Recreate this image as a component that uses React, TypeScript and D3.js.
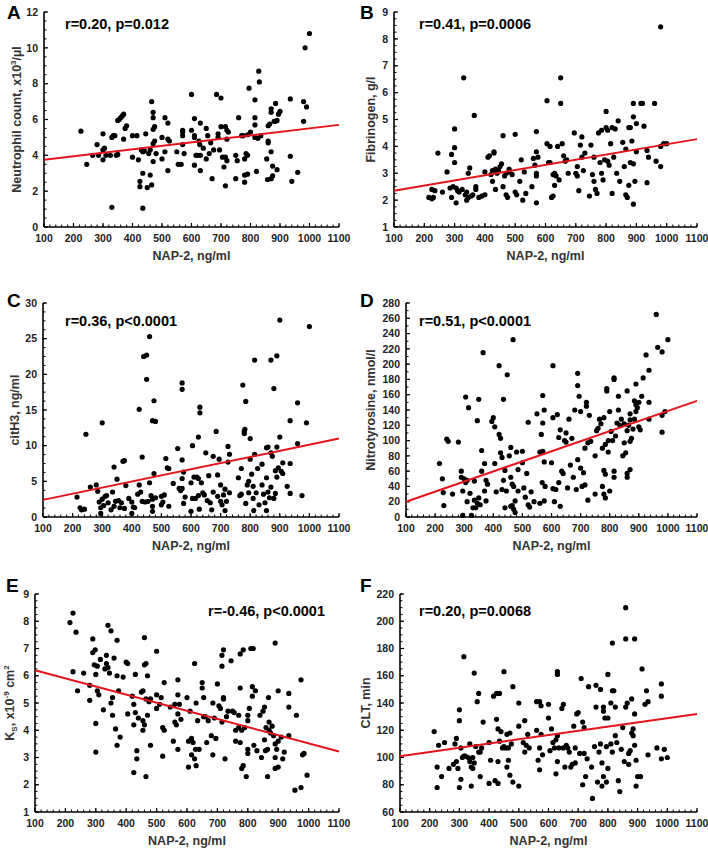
import React from "react";
import * as d3 from "d3";

type P = [number, number];

const xTicks = [100, 200, 300, 400, 500, 600, 700, 800, 900, 1000, 1100];

const neutrophil: P[] = [
  [225, 5.35], [245, 3.5], [265, 4.0], [280, 4.6], [285, 4.0], [300, 5.2], [300, 4.3], [305, 4.4], [300, 3.75], [310, 4.0],
  [325, 4.0], [330, 5.0], [335, 5.1], [340, 5.1], [345, 4.0], [350, 4.05], [330, 1.1], [350, 5.95], [355, 6.0], [360, 6.1],
  [365, 6.2], [370, 6.3], [370, 4.9], [375, 5.5], [380, 5.65], [400, 3.9], [400, 5.1], [415, 5.1], [420, 3.75], [425, 2.55],
  [425, 2.25], [430, 4.3], [435, 4.2], [435, 3.0], [440, 4.25], [435, 1.05], [445, 5.2], [450, 2.2], [455, 4.1], [460, 2.9],
  [465, 2.35], [460, 4.3], [465, 7.0], [470, 6.4], [470, 6.1], [470, 5.45], [475, 5.6], [470, 4.65], [475, 4.8], [470, 3.65],
  [480, 4.1], [500, 5.0], [500, 3.8], [510, 4.2], [510, 6.1], [520, 5.8], [520, 4.9], [525, 4.8], [520, 3.15], [550, 4.2],
  [555, 3.5], [565, 3.5], [570, 5.4], [570, 5.3], [570, 5.1], [570, 4.6], [575, 4.1], [600, 7.4], [600, 5.4], [610, 6.05],
  [610, 5.1], [610, 5.0], [610, 3.45], [615, 4.0], [620, 4.0], [625, 4.8], [628, 4.6], [630, 5.8], [630, 4.0], [630, 3.15],
  [640, 4.4], [650, 5.5], [650, 3.8], [655, 5.1], [660, 4.1], [665, 4.7], [670, 2.7], [675, 4.3], [685, 7.4], [690, 5.2],
  [690, 5.0], [695, 4.3], [700, 7.2], [700, 5.6], [705, 3.9], [710, 3.35], [715, 5.6], [715, 2.3], [720, 5.4], [720, 4.9],
  [720, 3.7], [725, 5.3], [715, 3.9], [750, 4.0], [750, 2.7], [755, 3.7], [760, 6.1], [770, 5.1], [775, 5.1], [780, 3.8],
  [780, 2.5], [780, 2.9], [785, 4.1], [790, 5.15], [790, 4.0], [790, 2.95], [795, 7.75], [800, 5.3], [815, 7.1], [815, 6.1],
  [815, 5.7], [815, 5.0], [820, 3.1], [825, 4.95], [828, 8.7], [830, 8.1], [835, 5.1], [855, 3.8], [858, 2.65], [860, 5.65],
  [860, 4.8], [860, 4.7], [865, 5.75], [870, 6.6], [870, 6.4], [870, 4.2], [870, 2.7], [875, 3.4], [875, 2.85], [880, 5.9],
  [885, 6.9], [885, 5.9], [890, 5.95], [890, 3.2], [895, 6.3], [900, 6.45], [935, 7.15], [935, 3.95], [940, 2.55], [960, 3.05],
  [980, 7.0], [980, 5.9], [985, 10.0], [990, 6.7], [1000, 10.8],
];

const fibrinogen: P[] = [
  [215, 2.1], [225, 2.05], [230, 2.1], [225, 2.4], [235, 2.35], [245, 3.75], [260, 2.3], [275, 3.05], [285, 2.45], [290, 2.1],
  [290, 3.7], [295, 2.5], [300, 4.65], [300, 3.95], [300, 3.4], [305, 2.45], [305, 1.9], [310, 2.35], [315, 2.3], [325, 2.4],
  [330, 6.55], [335, 2.2], [340, 2.0], [340, 2.3], [345, 2.1], [345, 3.0], [350, 3.2], [355, 2.15], [360, 2.2], [365, 5.15],
  [370, 2.5], [370, 2.4], [380, 2.1], [390, 2.15], [400, 3.05], [400, 2.2], [410, 3.6], [415, 3.65], [420, 2.95], [425, 3.1],
  [425, 2.7], [430, 3.8], [430, 3.75], [435, 3.15], [435, 2.4], [440, 3.0], [445, 3.1], [450, 3.25], [455, 3.35], [460, 4.4],
  [460, 2.5], [465, 2.9], [470, 3.0], [470, 2.2], [475, 2.1], [480, 3.05], [480, 3.15], [490, 2.95], [500, 4.45], [500, 2.3],
  [505, 2.2], [515, 2.7], [520, 3.5], [525, 2.0], [530, 3.05], [535, 2.25], [555, 2.5], [560, 3.55], [565, 3.3], [570, 4.55],
  [570, 3.8], [570, 3.0], [570, 2.9], [570, 1.9], [575, 3.6], [605, 5.7], [605, 4.1], [610, 3.4], [615, 4.0], [615, 3.4],
  [620, 2.1], [625, 2.95], [625, 2.15], [630, 3.0], [630, 2.55], [635, 2.9], [640, 4.0], [645, 2.75], [650, 6.55], [650, 5.6],
  [655, 4.1], [660, 3.65], [665, 3.45], [670, 3.5], [675, 3.0], [695, 4.5], [700, 3.0], [705, 2.9], [705, 3.25], [710, 2.35],
  [715, 4.05], [720, 4.35], [720, 3.6], [725, 3.1], [730, 3.75], [745, 2.15], [750, 4.05], [755, 2.95], [760, 3.6], [760, 2.7],
  [765, 2.4], [770, 2.25], [775, 4.5], [780, 3.4], [785, 4.6], [785, 3.0], [790, 2.75], [795, 3.5], [800, 5.3], [800, 4.7],
  [805, 4.6], [805, 3.45], [810, 3.3], [815, 4.1], [820, 4.7], [820, 2.25], [825, 3.6], [830, 4.65], [835, 3.0], [840, 4.95],
  [845, 2.7], [855, 4.15], [860, 3.25], [865, 3.9], [865, 2.2], [870, 2.1], [875, 4.7], [875, 2.55], [880, 4.7], [880, 3.4],
  [885, 4.2], [890, 5.6], [890, 5.1], [890, 3.35], [890, 1.85], [895, 2.7], [900, 3.8], [900, 4.85], [915, 5.6], [920, 5.6],
  [925, 4.75], [935, 3.85], [935, 2.65], [940, 3.6], [960, 5.6], [965, 3.45], [980, 8.45], [980, 4.0], [980, 3.25], [990, 4.1],
  [1000, 4.1],
];

const citH3: P[] = [
  [215, 2.8], [225, 1.3], [230, 1.0], [240, 1.1], [245, 11.6], [260, 4.2], [280, 4.5], [285, 3.6], [290, 2.1], [295, 1.3],
  [295, 0.5], [300, 13.2], [300, 2.5], [305, 1.6], [310, 2.9], [315, 3.0], [320, 2.0], [330, 1.0], [335, 3.5], [340, 7.0],
  [340, 1.5], [345, 2.2], [350, 5.3], [355, 2.3], [360, 1.3], [365, 2.0], [370, 7.8], [375, 7.9], [375, 1.2], [380, 4.4],
  [390, 2.6], [400, 2.1], [400, 0.5], [405, 1.4], [410, 1.3], [420, 3.2], [425, 15.1], [425, 4.5], [430, 3.5], [435, 8.4],
  [435, 2.2], [440, 22.5], [445, 2.1], [450, 22.7], [450, 19.3], [455, 2.2], [460, 25.3], [460, 4.8], [465, 3.0], [470, 13.5],
  [470, 2.5], [470, 1.5], [470, 0.8], [475, 16.3], [475, 6.1], [480, 13.4], [480, 2.7], [500, 2.9], [500, 1.7], [505, 2.1],
  [510, 3.1], [515, 8.2], [520, 6.9], [525, 6.8], [525, 1.5], [540, 4.7], [555, 9.6], [560, 4.0], [565, 3.7], [570, 18.8],
  [570, 17.9], [570, 8.0], [570, 5.4], [570, 4.0], [575, 6.3], [575, 1.9], [580, 2.8], [600, 4.8], [600, 0.8], [605, 10.0],
  [605, 2.6], [610, 5.6], [615, 2.6], [620, 5.6], [625, 11.2], [625, 5.4], [625, 3.0], [628, 1.1], [630, 15.4], [630, 14.6],
  [635, 4.8], [640, 3.4], [645, 3.1], [650, 9.0], [655, 2.3], [660, 5.8], [665, 2.0], [670, 1.0], [675, 8.5], [675, 3.5],
  [685, 12.0], [690, 5.9], [690, 2.9], [695, 8.1], [700, 4.5], [700, 2.2], [705, 1.7], [710, 3.1], [715, 3.9], [715, 0.9],
  [720, 2.2], [725, 9.9], [725, 7.7], [730, 8.8], [730, 3.4], [760, 5.5], [765, 3.0], [770, 3.2], [770, 6.8], [775, 18.5],
  [780, 12.0], [780, 11.7], [782, 12.3], [785, 16.2], [785, 1.9], [790, 4.5], [795, 5.0], [795, 3.4], [800, 11.0], [800, 8.1],
  [805, 6.0], [810, 4.3], [810, 2.6], [812, 0.9], [815, 22.0], [815, 8.8], [820, 3.4], [825, 6.8], [830, 1.7], [840, 7.4],
  [840, 4.5], [845, 3.2], [850, 2.0], [855, 9.7], [855, 5.5], [855, 0.9], [860, 9.8], [860, 3.5], [865, 2.7], [870, 22.0],
  [870, 9.0], [870, 4.2], [875, 8.5], [880, 18.0], [880, 2.6], [885, 6.5], [885, 3.3], [890, 22.6], [890, 9.8], [890, 5.6],
  [895, 6.9], [900, 27.6], [900, 11.2], [905, 6.4], [910, 7.6], [910, 6.1], [925, 4.3], [935, 13.5], [935, 7.5], [935, 3.3],
  [960, 16.0], [960, 10.3], [975, 3.0], [990, 13.2], [1000, 26.7],
];

const nitrotyrosine: P[] = [
  [215, 70], [225, 50], [228, 32], [230, 15], [240, 102], [245, 99], [260, 30], [280, 98], [290, 60], [290, 52],
  [295, 34], [295, 2], [300, 50], [305, 157], [305, 45], [310, 20], [310, 48], [315, 143], [320, 31], [325, 2],
  [330, 12], [335, 22], [335, 47], [340, 12], [345, 126], [345, 18], [350, 154], [350, 25], [355, 16], [360, 87],
  [360, 60], [365, 215], [370, 34], [370, 70], [375, 48], [375, 21], [380, 43], [395, 125], [400, 130], [405, 118],
  [405, 70], [410, 33], [420, 198], [420, 108], [425, 103], [425, 84], [430, 78], [430, 36], [435, 154], [435, 48],
  [440, 12], [440, 61], [445, 34], [448, 186], [455, 80], [460, 91], [460, 52], [460, 14], [465, 43], [465, 15],
  [468, 232], [470, 40], [470, 10], [475, 21], [475, 6], [480, 85], [485, 62], [485, 34], [500, 86], [500, 71],
  [505, 38], [510, 26], [515, 57], [520, 124], [520, 16], [525, 13], [530, 33], [540, 20], [550, 135], [560, 85],
  [560, 18], [565, 108], [568, 45], [570, 159], [570, 123], [570, 86], [575, 140], [575, 72], [575, 21], [578, 40],
  [600, 71], [605, 198], [605, 130], [605, 37], [610, 20], [615, 36], [620, 134], [625, 104], [625, 45], [630, 114],
  [630, 14], [635, 60], [640, 57], [645, 100], [650, 110], [650, 98], [655, 38], [660, 128], [665, 68], [670, 103],
  [675, 52], [680, 140], [685, 36], [690, 172], [690, 188], [690, 75], [695, 158], [700, 138], [700, 64], [705, 40],
  [710, 58], [715, 42], [715, 90], [720, 150], [720, 145], [725, 97], [725, 22], [730, 133], [735, 99], [750, 80],
  [750, 30], [755, 113], [760, 116], [765, 128], [770, 122], [775, 90], [775, 40], [780, 61], [780, 130], [780, 30],
  [785, 56], [785, 95], [785, 25], [790, 165], [790, 168], [795, 100], [795, 85], [800, 138], [800, 34], [805, 112],
  [810, 100], [815, 182], [815, 180], [815, 60], [815, 52], [820, 106], [825, 123], [830, 158], [830, 140], [835, 120],
  [840, 128], [845, 80], [850, 122], [850, 97], [855, 84], [860, 165], [860, 113], [860, 57], [860, 52], [865, 120],
  [870, 135], [870, 127], [870, 99], [870, 62], [875, 103], [880, 115], [885, 152], [885, 128], [890, 174], [890, 147],
  [890, 138], [895, 143], [900, 150], [900, 118], [905, 114], [910, 158], [915, 182], [925, 212], [935, 192], [935, 150],
  [935, 128], [960, 265], [965, 222], [980, 216], [980, 133], [980, 111], [990, 138], [1000, 232],
];

const ks: P[] = [
  [215, 7.95], [225, 8.3], [225, 6.15], [235, 7.6], [240, 5.45], [260, 6.1], [280, 5.65], [280, 5.1], [290, 7.35], [290, 6.85],
  [295, 6.4], [298, 6.95], [300, 6.05], [300, 4.25], [300, 3.2], [305, 6.35], [305, 5.45], [310, 5.3], [315, 6.6], [325, 4.75],
  [330, 6.25], [335, 6.75], [335, 6.45], [340, 7.85], [340, 6.3], [345, 6.1], [350, 7.65], [350, 5.0], [355, 4.55], [355, 5.2],
  [360, 6.65], [365, 4.05], [370, 7.3], [370, 6.0], [370, 3.45], [375, 5.45], [380, 3.75], [390, 5.95], [400, 6.5], [405, 6.45],
  [405, 4.6], [420, 5.25], [425, 4.95], [425, 4.2], [425, 2.45], [430, 6.05], [430, 4.65], [435, 3.25], [435, 2.95], [440, 4.45],
  [450, 5.4], [455, 5.45], [455, 4.35], [455, 4.0], [460, 7.4], [460, 6.4], [460, 4.2], [465, 6.45], [465, 5.15], [465, 2.3],
  [470, 6.0], [470, 4.55], [475, 5.05], [480, 5.15], [480, 3.45], [500, 6.9], [500, 5.3], [500, 4.8], [510, 4.95], [515, 5.2],
  [520, 4.1], [520, 3.05], [525, 5.75], [525, 4.0], [545, 4.85], [555, 3.6], [560, 4.95], [560, 4.3], [565, 4.2], [570, 5.85],
  [570, 5.3], [570, 4.6], [570, 3.3], [575, 4.95], [580, 4.4], [600, 5.2], [605, 3.6], [605, 2.65], [610, 4.7], [615, 3.7],
  [615, 3.1], [620, 3.55], [625, 6.45], [625, 2.95], [628, 3.3], [630, 5.0], [630, 2.7], [635, 4.35], [640, 3.3], [650, 5.75],
  [650, 5.55], [655, 5.2], [655, 4.5], [660, 4.5], [665, 3.55], [670, 4.35], [680, 3.8], [685, 5.0], [685, 3.1], [690, 4.45],
  [695, 3.7], [700, 5.7], [705, 4.9], [710, 4.8], [715, 4.3], [715, 6.75], [715, 6.35], [720, 6.95], [720, 5.2], [720, 5.15],
  [725, 2.95], [730, 4.5], [735, 4.7], [745, 6.55], [750, 4.7], [755, 4.65], [760, 4.0], [760, 3.6], [770, 4.55], [770, 4.1],
  [775, 6.8], [775, 5.55], [775, 3.55], [780, 2.6], [780, 4.0], [785, 6.95], [785, 2.7], [790, 4.1], [795, 2.3], [800, 4.55],
  [800, 4.35], [800, 3.3], [800, 3.15], [805, 4.8], [810, 7.0], [815, 5.6], [815, 5.25], [818, 7.0], [820, 3.45], [825, 5.45],
  [830, 3.25], [840, 4.55], [845, 3.0], [850, 4.7], [855, 4.85], [855, 3.65], [858, 3.25], [860, 4.1], [865, 3.3], [865, 2.3],
  [868, 5.2], [870, 4.3], [870, 4.0], [875, 3.9], [880, 4.15], [885, 3.8], [890, 7.2], [890, 3.5], [890, 3.0], [890, 2.6],
  [895, 3.3], [900, 5.45], [900, 3.6], [900, 2.65], [910, 3.75], [915, 2.95], [920, 3.2], [935, 5.35], [935, 4.85], [935, 3.8],
  [955, 1.8], [960, 4.55], [975, 5.85], [975, 1.9], [980, 3.1], [985, 3.15], [995, 2.35],
];

const clt: P[] = [
  [215, 119], [225, 78], [225, 93], [230, 109], [240, 86], [250, 111], [265, 92], [280, 95], [285, 110], [290, 114],
  [290, 97], [295, 92], [300, 135], [300, 127], [300, 78], [305, 84], [305, 107], [310, 100], [315, 174], [315, 101],
  [320, 101], [330, 100], [335, 110], [335, 97], [340, 79], [340, 93], [345, 92], [345, 100], [350, 162], [350, 96],
  [355, 108], [360, 141], [365, 147], [365, 104], [370, 86], [370, 104], [375, 107], [380, 126], [400, 111], [400, 81],
  [405, 98], [415, 145], [420, 83], [425, 147], [425, 128], [430, 121], [430, 81], [430, 97], [435, 147], [435, 112],
  [440, 119], [445, 107], [450, 163], [450, 108], [455, 107], [460, 117], [460, 93], [465, 98], [465, 107], [470, 118],
  [470, 87], [475, 110], [480, 152], [480, 82], [500, 140], [500, 123], [500, 79], [515, 111], [520, 104], [520, 127],
  [525, 109], [530, 117], [535, 107], [560, 141], [560, 120], [565, 98], [570, 141], [570, 107], [570, 91], [575, 138],
  [575, 117], [580, 102], [600, 139], [600, 129], [605, 105], [610, 121], [615, 111], [620, 107], [625, 88], [625, 113],
  [630, 163], [630, 161], [630, 116], [630, 97], [635, 107], [645, 136], [650, 139], [650, 107], [655, 93], [660, 109],
  [665, 107], [670, 104], [675, 93], [680, 95], [685, 123], [690, 96], [690, 107], [695, 132], [700, 133], [705, 103],
  [710, 158], [715, 80], [715, 126], [720, 122], [720, 103], [725, 86], [730, 99], [735, 152], [745, 93], [748, 70],
  [755, 108], [760, 153], [760, 137], [765, 82], [770, 104], [775, 110], [775, 150], [780, 96], [780, 79], [785, 137],
  [785, 134], [785, 86], [790, 129], [795, 108], [795, 82], [800, 161], [800, 129], [800, 92], [810, 140], [810, 110],
  [815, 184], [815, 149], [815, 104], [820, 149], [825, 137], [825, 116], [830, 111], [835, 83], [840, 75], [845, 106],
  [850, 122], [855, 97], [860, 210], [860, 187], [860, 137], [865, 140], [870, 103], [870, 95], [875, 105], [880, 143], [880, 118],
  [885, 121], [885, 116], [890, 187], [890, 132], [890, 109], [895, 98], [895, 79], [900, 86], [910, 86], [915, 165],
  [925, 139], [930, 149], [935, 141], [935, 102], [965, 107], [980, 154], [980, 145], [980, 99], [990, 106], [1000, 100],
];

// regression line values at x = 100 and x = 1100
const fitA: P = [3.75, 5.7];
const fitB: P = [2.35, 4.27];
const fitC: P = [2.4, 11.0];
const fitD: P = [20, 152];
const fitE: P = [6.2, 3.22];
const fitF: P = [101, 132];

const ticksA = [0, 2, 4, 6, 8, 10, 12];
const ticksB = [1, 2, 3, 4, 5, 6, 7, 8, 9];
const ticksC = [0, 5, 10, 15, 20, 25, 30];
const ticksD = d3.range(0, 281, 20);
const ticksE = [1, 2, 3, 4, 5, 6, 7, 8, 9];
const ticksF = [60, 80, 100, 120, 140, 160, 180, 200, 220];

const FONT = "'Liberation Sans', Arial, Helvetica, sans-serif";

interface PanelProps {
  letter: string;
  letterPos: P;
  data: P[];
  fit: P;
  yTicks: number[];
  yMinorStep: number;
  left: number;
  right: number;
  top: number;
  bottom: number;
  annotation: string;
  annPos: P;
  annAnchor?: "start" | "end";
  yTitle: React.ReactNode;
  yTitleX: number;
}

function Panel(p: PanelProps) {
  const x = d3.scaleLinear().domain([100, 1100]).range([p.left, p.right]);
  const yDom = [p.yTicks[0], p.yTicks[p.yTicks.length - 1]];
  const y = d3.scaleLinear().domain(yDom).range([p.bottom, p.top]);
  const xMinor = d3.range(100, 1100.1, 20);
  const yMinor = d3.range(yDom[0], yDom[1] + 1e-9, p.yMinorStep);
  const line = d3.line<P>().x((d) => x(d[0])).y((d) => y(d[1]));
  const fitPts: P[] = [[100, p.fit[0]], [1100, p.fit[1]]];
  const midY = (p.top + p.bottom) / 2;
  return (
    <g>
      <text x={p.letterPos[0]} y={p.letterPos[1]} fontSize={19} fontWeight="bold" fill="#000" fontFamily={FONT}>
        {p.letter}
      </text>
      {xMinor.map((v, i) => (
        <line key={"xm" + i} x1={x(v)} x2={x(v)} y1={p.bottom} y2={p.bottom - 2.5} stroke="#000" strokeWidth={1} />
      ))}
      {yMinor.map((v, i) => (
        <line key={"ym" + i} x1={p.left} x2={p.left + 2.5} y1={y(v)} y2={y(v)} stroke="#000" strokeWidth={1} />
      ))}
      {xTicks.map((v) => (
        <g key={"xt" + v}>
          <line x1={x(v)} x2={x(v)} y1={p.bottom} y2={p.bottom - 4} stroke="#000" strokeWidth={1.2} />
          <text x={x(v)} y={p.bottom + 15} textAnchor="middle" fontSize={10.5} fontWeight="bold" fill="#222" fontFamily={FONT}>
            {v}
          </text>
        </g>
      ))}
      {p.yTicks.map((v) => (
        <g key={"yt" + v}>
          <line x1={p.left} x2={p.left + 4} y1={y(v)} y2={y(v)} stroke="#000" strokeWidth={1.2} />
          <text x={p.left - 6} y={y(v)} dy="0.35em" textAnchor="end" fontSize={10.5} fontWeight="bold" fill="#222" fontFamily={FONT}>
            {v}
          </text>
        </g>
      ))}
      <line x1={p.left} x2={p.left} y1={p.top} y2={p.bottom} stroke="#000" strokeWidth={1.6} />
      <line x1={p.left} x2={p.right} y1={p.bottom} y2={p.bottom} stroke="#000" strokeWidth={1.6} />
      {p.data.map((d, i) => (
        <circle key={i} cx={x(d[0])} cy={y(d[1])} r={2.6} fill="#000" />
      ))}
      <path d={line(fitPts) || ""} stroke="#e5141c" strokeWidth={2} fill="none" />
      <text x={p.annPos[0]} y={p.annPos[1]} textAnchor={p.annAnchor || "start"} fontSize={14.5} fontWeight="bold" fill="#000" fontFamily={FONT}>
        {p.annotation}
      </text>
      <text x={(p.left + p.right) / 2} y={p.bottom + 33} textAnchor="middle" fontSize={12.5} fontWeight="bold" fill="#333" fontFamily={FONT}>
        NAP-2, ng/ml
      </text>
      <text
        transform={`translate(${p.yTitleX},${midY}) rotate(-90)`}
        textAnchor="middle"
        dy="0.35em"
        fontSize={12.5}
        fontWeight="bold"
        fill="#333"
        fontFamily={FONT}
      >
        {p.yTitle}
      </text>
    </g>
  );
}

export default function App() {
  return (
    <svg width={708} height={849} style={{ position: "absolute", left: 0, top: 0, background: "#fff" }}>
      <rect width={708} height={849} fill="#fff" />
      <Panel letter="A" letterPos={[7, 19]} data={neutrophil} fit={fitA} yTicks={ticksA} yMinorStep={0.5}
        left={44} right={339} top={12} bottom={227} annotation="r=0.20, p=0.012" annPos={[65, 29]}
        yTitle={<>Neutrophil count, x10<tspan dy={-5} fontSize={8}>3</tspan><tspan dy={5}>/µl</tspan></>} yTitleX={17} />
      <Panel letter="B" letterPos={[360, 19]} data={fibrinogen} fit={fitB} yTicks={ticksB} yMinorStep={0.25}
        left={394} right={697} top={12} bottom={227} annotation="r=0.41, p=0.0006" annPos={[419, 29]}
        yTitle="Fibrinogen, g/l" yTitleX={371} />
      <Panel letter="C" letterPos={[7, 307]} data={citH3} fit={fitC} yTicks={ticksC} yMinorStep={1.25}
        left={43} right={339} top={303} bottom={517} annotation="r=0.36, p<0.0001" annPos={[65, 326]}
        yTitle="citH3, ng/ml" yTitleX={15} />
      <Panel letter="D" letterPos={[360, 307]} data={nitrotyrosine} fit={fitD} yTicks={ticksD} yMinorStep={10}
        left={406} right={697} top={303} bottom={517} annotation="r=0.51, p<0.0001" annPos={[419, 326]}
        yTitle="Nitrotyrosine, nmol/l" yTitleX={371} />
      <Panel letter="E" letterPos={[6, 592]} data={ks} fit={fitE} yTicks={ticksE} yMinorStep={0.25}
        left={35} right={339} top={594} bottom={812} annotation="r=-0.46, p<0.0001" annPos={[325, 616]} annAnchor="end"
        yTitle={<>K<tspan dy={3} fontSize={8}>S</tspan><tspan dy={-3}>, x10</tspan><tspan dy={-5} fontSize={8}>-9</tspan><tspan dy={5}> cm</tspan><tspan dy={-5} fontSize={8}>2</tspan></>}
        yTitleX={10} />
      <Panel letter="F" letterPos={[360, 592]} data={clt} fit={fitF} yTicks={ticksF} yMinorStep={5}
        left={400} right={697} top={594} bottom={812} annotation="r=0.20, p=0.0068" annPos={[419, 616]}
        yTitle="CLT, min" yTitleX={366} />
    </svg>
  );
}
